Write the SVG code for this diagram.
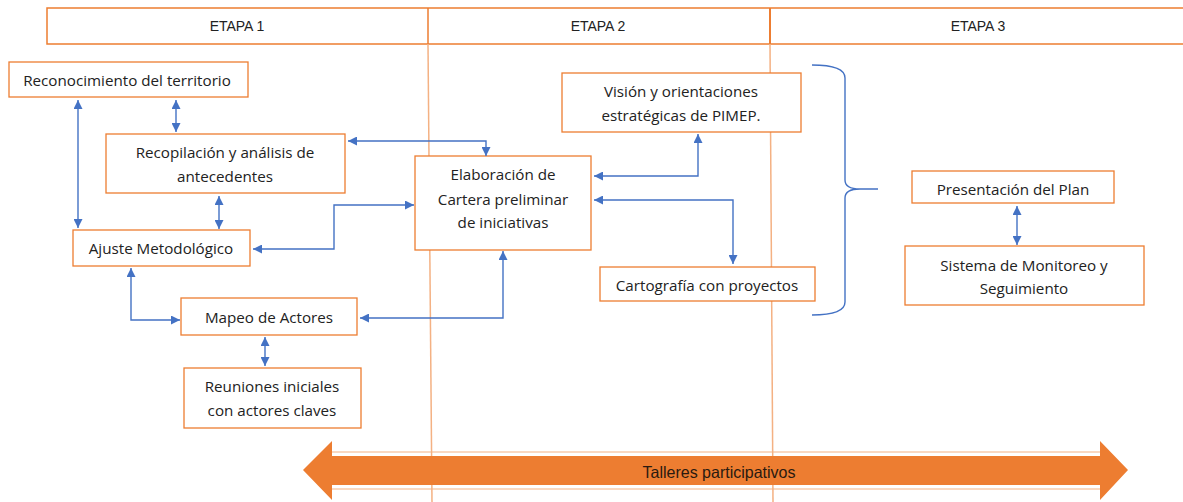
<svg xmlns="http://www.w3.org/2000/svg" width="1183" height="502" viewBox="0 0 1183 502">
<style>
.box{fill:#fff;stroke:#ED7D31;stroke-width:1.3}
.t{font-family:"Open Sans","Liberation Sans",Arial,sans-serif;font-size:15.2px;fill:#222;text-anchor:middle;dominant-baseline:central}
.h{font-family:"Liberation Sans",Arial,sans-serif;font-size:14px;fill:#222;text-anchor:middle;dominant-baseline:central}
.c{fill:none;stroke:#4472C4;stroke-width:1.4}
.div{stroke:#F4B183;stroke-width:1.5;fill:none}
</style>
<defs>
<marker id="ah" viewBox="0 0 10 10" refX="10" refY="5" markerWidth="9" markerHeight="9" markerUnits="userSpaceOnUse" orient="auto-start-reverse">
<path d="M0,0 L10,5 L0,10 z" fill="#4472C4"/>
</marker>
</defs>
<rect width="1183" height="502" fill="#fff"/>
<g id="header">
<rect x="47" y="8" width="1140" height="36" fill="#fff" stroke="#ED7D31" stroke-width="1.5"/>
<line x1="428" y1="8" x2="428" y2="44" stroke="#ED7D31" stroke-width="1.5"/>
<line x1="770" y1="8" x2="770" y2="44" stroke="#ED7D31" stroke-width="2"/>
<text class="h" x="237" y="26">ETAPA 1</text>
<text class="h" x="598" y="26">ETAPA 2</text>
<text class="h" x="978" y="26">ETAPA 3</text>
</g>
<g id="dividers">
<line class="div" x1="428" y1="44" x2="432" y2="502"/>
<line class="div" x1="770" y1="44" x2="773" y2="502"/>
</g>
<g id="talleres">
<line x1="330" y1="452" x2="1102" y2="452" stroke="#F4B183" stroke-width="1.2"/>
<line x1="330" y1="489" x2="1102" y2="489" stroke="#F4B183" stroke-width="1.2"/>
<path d="M303,470 L332,441 L332,456 L1100,456 L1100,441 L1128,470 L1100,500 L1100,485 L332,485 L332,500 Z" fill="#ED7D31"/>
<text class="h" x="719" y="472" style="font-size:16.5px;fill:#2a1a10" transform="translate(719 472) scale(0.97 1.05) translate(-719 -472)">Talleres participativos</text>
</g>
<g id="n-reconocimiento">
<rect class="box" x="9" y="62" width="239" height="35"/>
<text class="t" x="127" y="80">Reconocimiento del territorio</text>
</g>
<g id="n-recopilacion">
<rect class="box" x="106" y="134" width="239" height="59"/>
<text class="t" x="225" y="152">Recopilación y análisis de</text>
<text class="t" x="225" y="176">antecedentes</text>
</g>
<g id="n-ajuste">
<rect class="box" x="73" y="230" width="177" height="36"/>
<text class="t" x="161" y="248">Ajuste Metodológico</text>
</g>
<g id="n-mapeo">
<rect class="box" x="181" y="298" width="176" height="37"/>
<text class="t" x="269" y="317">Mapeo de Actores</text>
</g>
<g id="n-reuniones">
<rect class="box" x="184" y="368" width="177" height="60"/>
<text class="t" x="272" y="386">Reuniones iniciales</text>
<text class="t" x="272" y="410">con actores claves</text>
</g>
<g id="n-elaboracion">
<rect class="box" x="415" y="156" width="176" height="94"/>
<text class="t" x="503" y="174">Elaboración de</text>
<text class="t" x="503" y="199">Cartera preliminar</text>
<text class="t" x="503" y="222">de iniciativas</text>
</g>
<g id="n-vision">
<rect class="box" x="562" y="73" width="239" height="59"/>
<text class="t" x="681" y="91">Visión y orientaciones</text>
<text class="t" x="681" y="115">estratégicas de PIMEP.</text>
</g>
<g id="n-cartografia">
<rect class="box" x="600" y="267" width="215" height="34"/>
<text class="t" x="707" y="285">Cartografía con proyectos</text>
</g>
<g id="n-presentacion">
<rect class="box" x="912" y="171" width="202" height="32"/>
<text class="t" x="1013" y="189">Presentación del Plan</text>
</g>
<g id="n-sistema">
<rect class="box" x="905" y="246" width="239" height="59"/>
<text class="t" x="1024" y="265">Sistema de Monitoreo y</text>
<text class="t" x="1024" y="288">Seguimiento</text>
</g>
<g id="connectors">
<line class="c" x1="78" y1="100" x2="78" y2="228" marker-start="url(#ah)" marker-end="url(#ah)"/>
<line class="c" x1="176" y1="100" x2="176" y2="132" marker-start="url(#ah)" marker-end="url(#ah)"/>
<line class="c" x1="219" y1="196" x2="219" y2="229" marker-start="url(#ah)" marker-end="url(#ah)"/>
<polyline class="c" points="348,141 486,141 486,156" marker-start="url(#ah)" marker-end="url(#ah)"/>
<polyline class="c" points="253,249 334,249 334,205 414,205" marker-start="url(#ah)" marker-end="url(#ah)"/>
<polyline class="c" points="131,268 131,320 180,320" marker-start="url(#ah)" marker-end="url(#ah)"/>
<polyline class="c" points="360,318 503,318 503,251" marker-start="url(#ah)" marker-end="url(#ah)"/>
<line class="c" x1="265" y1="337" x2="265" y2="366" marker-start="url(#ah)" marker-end="url(#ah)"/>
<polyline class="c" points="594,176 698,176 698,134" marker-start="url(#ah)" marker-end="url(#ah)"/>
<polyline class="c" points="594,200 733,200 733,264" marker-start="url(#ah)" marker-end="url(#ah)"/>
<line class="c" x1="1017" y1="206" x2="1017" y2="245" marker-start="url(#ah)" marker-end="url(#ah)"/>
<path class="c" d="M812,65 Q845,65 845,78 L845,180 Q845,189 860,189 L878,189 M860,189 Q845,189 845,198 L845,302 Q845,315 812,315"/>
</g>
</svg>
